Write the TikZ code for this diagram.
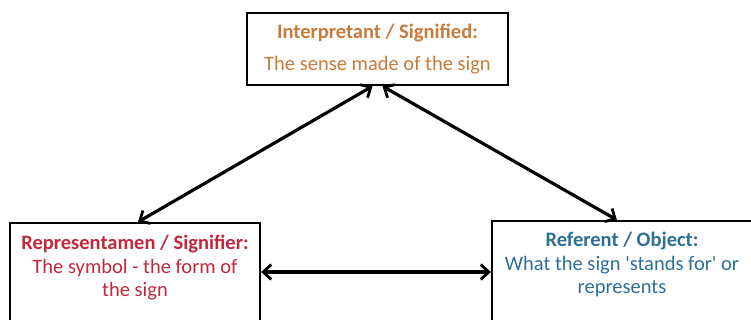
\documentclass[tikz,border=0pt]{standalone}
\usepackage{fontspec}
\setmainfont{Carlito}
\usetikzlibrary{arrows.meta}
\definecolor{interpcol}{RGB}{200,122,58}
\definecolor{reprcol}{RGB}{192,40,60}
\definecolor{objcol}{RGB}{46,111,150}
\begin{document}
\begin{tikzpicture}[
    x=1pt, y=-1pt,
    >={Straight Barb[length=8pt,width=15pt,line width=2.8pt]},
    signbox/.style={draw, line width=2.4pt, align=center, inner sep=0pt,
        font=\fontsize{20.5}{23.5}\selectfont},
    link/.style={<->, line width=3.2pt}
]

    % Canvas
    \useasboundingbox (0,0) rectangle (751,320);
    \clip (0,0) rectangle (751,320);

    % Top box
    \node[signbox, minimum width=261, minimum height=72, text=interpcol] (interp) at (377.5,49)
        {\textbf{Interpretant / Signified:}\\[8pt]The sense made of the sign};

    % Bottom boxes, cut off by the lower edge
    \node[signbox, anchor=north, minimum width=250, text=reprcol, inner ysep=12pt] (repr) at (135,222)
        {\textbf{Representamen / Signifier:}\\The symbol - the form of\\the sign\\[6pt]~};
    \node[signbox, anchor=north, minimum width=260, text=objcol, inner ysep=11pt] (obj) at (622,220)
        {\textbf{Referent / Object:}\\What the sign \textquotesingle stands for\textquotesingle{} or\\represents\\[6pt]~};

    % Connectors
    \draw[link] ([xshift=-5]interp.south) -- ([xshift=3]repr.north);
    \draw[link] ([xshift=5]interp.south) -- ([xshift=-5]obj.north);
    \draw[link] (repr.east |- 0,272) -- (obj.west |- 0,272);

\end{tikzpicture}
\end{document}
